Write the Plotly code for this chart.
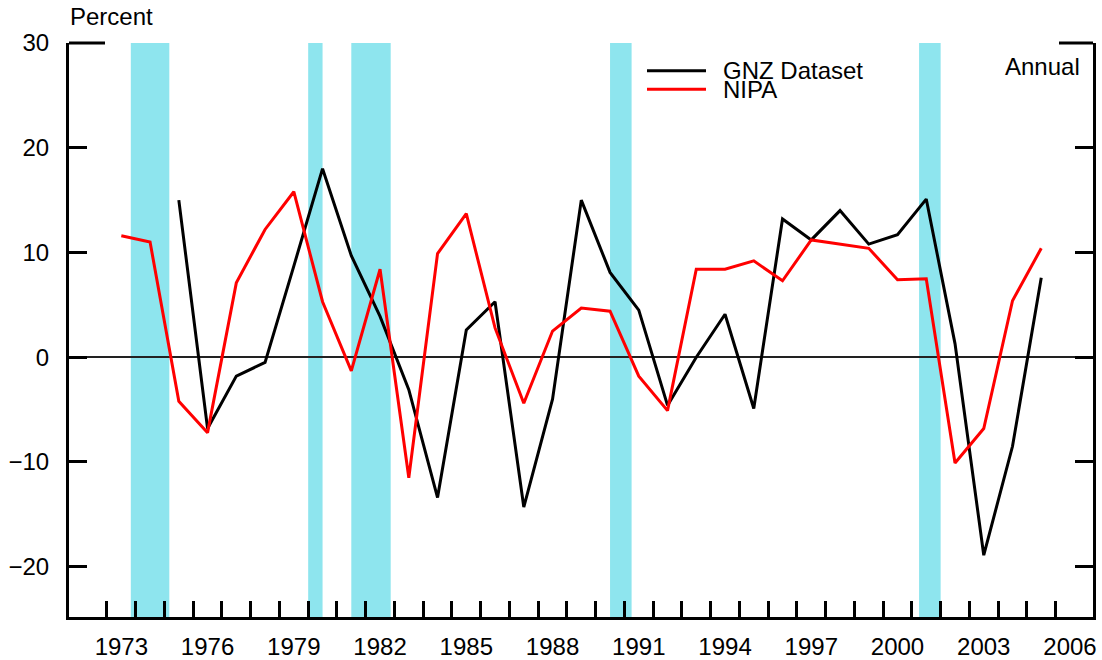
import plotly.graph_objects as go

# ---- data ----
gnz_years = list(range(1975, 2006))
gnz_values = [15.0, -6.8, -1.8, -0.5, 8.7, 18.0, 9.7, 3.9, -3.1, -13.4,
              2.6, 5.3, -14.3, -4.0, 15.0, 8.1, 4.5, -4.6, 0.0, 4.1,
              -4.9, 13.2, 11.2, 14.0, 10.8, 11.7, 15.1, 1.3, -18.9, -8.5, 7.6]

nipa_years = list(range(1973, 2006))
nipa_values = [11.6, 11.0, -4.2, -7.2, 7.1, 12.2, 15.8, 5.3, -1.3, 8.4,
               -11.5, 9.9, 13.7, 2.8, -4.4, 2.5, 4.7, 4.4, -1.8, -5.1,
               8.4, 8.4, 9.2, 7.3, 11.2, 10.8, 10.4, 7.4, 7.5, -10.1,
               -6.8, 5.4, 10.4]

recession_starts = [1973.83, 1980.0, 1981.5, 1990.5, 2001.25]
recession_ends = [1975.17, 1980.5, 1982.87, 1991.25, 2002.0]

label_years = list(range(1973, 2007, 3))
y_ticks = [-20, -10, 0, 10, 20, 30]

FONT = "Liberation Sans, Arial, sans-serif"
CYAN = "#8EE5EE"

# annual values plotted at mid-year
gnz_x = [y + 0.5 for y in gnz_years]
nipa_x = [y + 0.5 for y in nipa_years]

fig = go.Figure()
fig.add_trace(go.Scatter(x=gnz_x, y=gnz_values, mode="lines",
                         line=dict(color="black", width=3), name="GNZ Dataset",
                         showlegend=False))
fig.add_trace(go.Scatter(x=nipa_x, y=nipa_values, mode="lines",
                         line=dict(color="#FF0000", width=3), name="NIPA",
                         showlegend=False))

shapes = []
for s, e in zip(recession_starts, recession_ends):
    shapes.append(dict(type="rect", xref="x", yref="paper", x0=s, x1=e, y0=0, y1=1,
                       fillcolor=CYAN, line=dict(width=0), layer="below"))

W_PLOT = 1024.0
H_PLOT = 574.0
# top corner segments
shapes.append(dict(type="line", xref="paper", yref="paper", x0=0, x1=36 / W_PLOT,
                   y0=1, y1=1, line=dict(color="black", width=3)))
shapes.append(dict(type="line", xref="paper", yref="paper", x0=1 - 34 / W_PLOT, x1=1,
                   y0=1, y1=1, line=dict(color="black", width=3)))

# legend (manual)
def px_x(p):
    return (p - 69) / W_PLOT

def px_y(p):
    return (617 - p) / H_PLOT

shapes.append(dict(type="line", xref="paper", yref="paper", x0=px_x(647), x1=px_x(706),
                   y0=px_y(70.7), y1=px_y(70.7), line=dict(color="black", width=3)))
shapes.append(dict(type="line", xref="paper", yref="paper", x0=px_x(647), x1=px_x(706),
                   y0=px_y(89.3), y1=px_y(89.3), line=dict(color="#FF0000", width=3)))

annotations = [
    dict(text="GNZ Dataset", xref="paper", yref="paper", x=px_x(721), y=px_y(70.5),
         xanchor="left", yanchor="middle", showarrow=False,
         font=dict(family=FONT, size=24, color="black")),
    dict(text="NIPA", xref="paper", yref="paper", x=px_x(721), y=px_y(89.0),
         xanchor="left", yanchor="middle", showarrow=False,
         font=dict(family=FONT, size=24, color="black")),
    dict(text="Annual", xref="paper", yref="paper", x=px_x(1082), y=px_y(66),
         xanchor="right", yanchor="middle", showarrow=False,
         font=dict(family=FONT, size=24, color="black")),
    dict(text="Percent", xref="paper", yref="paper", x=px_x(68), y=px_y(16),
         xanchor="left", yanchor="middle", showarrow=False,
         font=dict(family=FONT, size=24, color="black")),
]

fig.update_layout(
    width=1102, height=660,
    margin=dict(l=69, r=9, t=43, b=43, autoexpand=False),
    paper_bgcolor="white", plot_bgcolor="white",
    font=dict(family=FONT, size=24, color="black"),
    shapes=shapes, annotations=annotations,
    xaxis=dict(
        range=[1971.68, 2007.3],
        tickvals=[y + 0.5 for y in label_years],
        ticktext=[str(y) for y in label_years],
        ticks="", showgrid=False, zeroline=False,
        showline=True, linecolor="black", linewidth=3, mirror=False,
        minor=dict(tickvals=list(range(1973, 2007)), ticks="inside",
                   ticklen=16, tickwidth=3, tickcolor="black", showgrid=False),
        tickfont=dict(family=FONT, size=24, color="black"),
        ticklabelstandoff=6, automargin=False,
    ),
    yaxis=dict(
        range=[-24.8, 30],
        tickvals=y_ticks,
        ticktext=[("\u2212" + str(-v)) if v < 0 else str(v) for v in y_ticks],
        ticks="inside", ticklen=18, tickwidth=3, tickcolor="black",
        showline=True, linecolor="black", linewidth=3, mirror="ticks",
        showgrid=False,
        zeroline=True, zerolinecolor="#222222", zerolinewidth=1.5,
        tickfont=dict(family=FONT, size=24, color="black"),
        ticklabelstandoff=12, automargin=False,
    ),
)

fig.write_html(
    "out.html",
    config={"displayModeBar": False},
    post_script="document.body.style.margin='0';document.body.style.overflow='hidden';",
)
